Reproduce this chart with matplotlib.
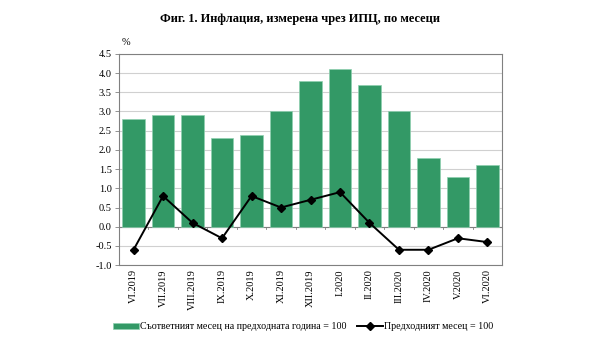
import numpy as np
import matplotlib.pyplot as plt

plt.rcParams['font.family'] = ['Liberation Serif', 'DejaVu Serif']

months = ['VI.2019', 'VII.2019', 'VIII.2019', 'IX.2019', 'X.2019', 'XI.2019',
          'XII.2019', 'I.2020', 'II.2020', 'III.2020', 'IV.2020', 'V.2020', 'VI.2020']
yoy = [2.8, 2.9, 2.9, 2.3, 2.4, 3.0, 3.8, 4.1, 3.7, 3.0, 1.8, 1.3, 1.6]
mom = [-0.6, 0.8, 0.1, -0.3, 0.8, 0.5, 0.7, 0.9, 0.1, -0.6, -0.6, -0.3, -0.4]

fig = plt.figure(figsize=(6, 3.43), dpi=100)
ax = fig.add_axes([0.198, 0.227, 0.639, 0.616])

x = np.arange(len(months))
bars = ax.bar(x, yoy, width=0.77, color='#339966', edgecolor='#8fd0b0', linewidth=0.5,
              zorder=2, label='Съответният месец на предходната година = 100')
line, = ax.plot(x, mom, color='black', marker='D', markersize=4.5, linewidth=1.4,
                zorder=3, label='Предходният месец = 100')

ax.set_xlim(-0.5, len(months) - 0.5)
ax.set_ylim(-1.0, 4.5)
ax.set_yticks(np.arange(-1.0, 4.51, 0.5))
ax.set_yticklabels([f'{v:.1f}' for v in np.arange(-1.0, 4.51, 0.5)], fontsize=7.5)
ax.yaxis.grid(True, color='#d0d0d0', linewidth=0.8, zorder=0)
ax.set_axisbelow(True)
ax.tick_params(axis='y', length=3, width=0.6, color='#808080', pad=2)

# category axis crosses at zero, labels sit below the plot
ax.set_xticks(x)
ax.set_xticklabels(months, rotation=90, fontsize=7.5)
ax.tick_params(axis='x', length=0, pad=3)
ax.axhline(0, color='#808080', linewidth=0.8, zorder=1)
for b in np.arange(0.5, len(months) - 0.5, 1):
    ax.plot([b, b], [0, -0.07], color='#808080', linewidth=0.6, zorder=1)

for s in ax.spines.values():
    s.set_color('#808080')
    s.set_linewidth(0.8)

fig.text(0.5, 0.945, 'Фиг. 1. Инфлация, измерена чрез ИПЦ, по месеци',
         ha='center', va='center', fontsize=9, fontweight='bold')
fig.text(0.202, 0.877, '%', ha='left', va='center', fontsize=7.5)

fig.legend(handles=[bars, line], loc='center', bbox_to_anchor=(0.505, 0.047), ncol=2,
           frameon=False, fontsize=7.2, handlelength=2.6, handleheight=0.45,
           handletextpad=0.15, columnspacing=1.0)

fig.savefig('out.png', dpi=100)
